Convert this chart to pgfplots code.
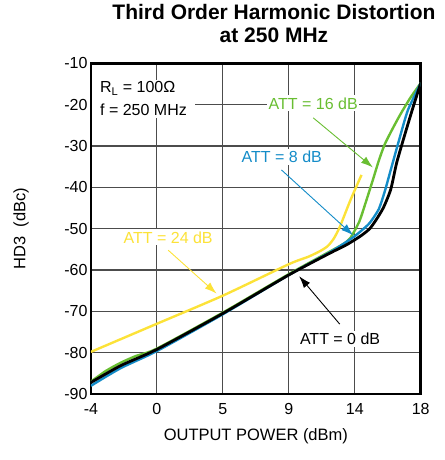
\documentclass[border=0pt]{standalone}
\usepackage{fontspec}
\setmainfont{Liberation Sans}
\usepackage{pgfplots}
\pgfplotsset{compat=1.18}
\usetikzlibrary{arrows.meta}
\definecolor{cblue}{RGB}{20,140,200}
\definecolor{cgreen}{RGB}{105,190,50}
\definecolor{cyellow}{RGB}{252,226,56}
\begin{document}
\begin{tikzpicture}
\begin{axis}[
  scale only axis, width=330pt, height=331pt,
  xmin=-4, xmax=18, ymin=-90, ymax=-10,
  xtick={-4,0.4,4.8,9.2,13.6,18}, xticklabels={-4,0,5,9,14,18},
  ytick={-90,-80,...,-10},
  major tick length=0pt,
  grid=major,
  major grid style={draw=black!70, line width=1.2pt},
  axis line style={line width=2.6pt},
  tick label style={font=\fontsize{16}{19}\selectfont},
  /pgf/number format/assume math mode=true,
  xticklabel style={yshift=-6pt},
  xlabel={OUTPUT POWER (dBm)}, ylabel={HD3\ \ (dBc)},
  label style={font=\fontsize{16.5}{20}\selectfont},
  xlabel style={at={(axis description cs:0.5,-0.129)}, anchor=center},
  ylabel style={at={(axis description cs:-0.212,0.5)}, anchor=center},
  title={Third Order Harmonic Distortion\\at 250 MHz},
  title style={at={(axis description cs:0.555,1)}, anchor=south, yshift=10.7pt, align=center, font=\bfseries\fontsize{21}{23}\selectfont},
]
\addplot[cyellow, line width=2.4pt, smooth, tension=0.4] coordinates {
(-4,-79.8) (0.4,-73.0) (4.8,-66.2) (9.2,-58.6) (10.5,-56.8) (11.3,-55.4) (11.8,-54.2) (12.2,-52.4) (12.6,-49.6) (13.3,-43.2) (14.05,-37.0)};
\addplot[cgreen, line width=2.4pt, smooth, tension=0.4] coordinates {
(-4,-87.0) (-3,-84.4) (-2,-82.4) (-1,-80.8) (0.4,-79.0) (4.8,-70.3) (9.2,-61.0) (11.9,-55.6) (12.8,-53.8) (13.3,-52.3) (13.9,-48.3) (14.3,-44.0) (14.8,-38.3) (15.2,-33.6) (15.6,-29.6) (16.2,-25.3) (16.7,-22.0) (17.3,-18.4) (18,-14.8)};
\addplot[cblue, line width=2.4pt, smooth, tension=0.4] coordinates {
(-4,-88.0) (-2,-83.7) (0.4,-79.6) (4.8,-70.7) (9.2,-61.2) (11.9,-55.8) (13.0,-53.3) (13.6,-51.8) (14.1,-50.3) (14.6,-48.6) (15.2,-45.3) (15.6,-41.0) (16.0,-35.8) (16.6,-28.0) (17.15,-21.3) (18,-14.8)};
\addplot[black, line width=2.8pt, smooth, tension=0.4] coordinates {
(-4,-87.2) (-2,-83.1) (0.4,-79.2) (4.8,-70.5) (9.2,-61.2) (11.9,-56.0) (13.0,-54.0) (13.6,-52.7) (14.1,-51.5) (14.6,-50.0) (15.0,-48.0) (15.5,-45.0) (16.0,-40.5) (16.4,-34.0) (17.0,-26.5) (17.5,-20.5) (18,-14.8)};
% annotations
\node[fill=white, anchor=west, align=left, inner xsep=8pt, inner ysep=2pt, font=\fontsize{16}{22.7}\selectfont] at (axis cs:-3.93,-18.6) {R\textsubscript{L} = 100Ω\\f = 250 MHz};
\draw[cgreen, line width=0.9pt, -{Latex[length=12pt,width=8pt]}] (axis cs:10.83,-23.2) -- (axis cs:14.81,-35.2);
\node[fill=white, inner xsep=1.5pt, inner ysep=2pt, text=cgreen, font=\fontsize{16}{19}\selectfont] at (axis cs:10.83,-19.7) {ATT = 16 dB};
\draw[cblue, line width=0.9pt, -{Latex[length=12pt,width=8pt]}] (axis cs:8.71,-35.8) -- (axis cs:13.49,-51.6);
\node[fill=white, inner xsep=1.5pt, inner ysep=2pt, text=cblue, font=\fontsize{16}{19}\selectfont] at (axis cs:8.73,-32.6) {ATT = 8 dB};
\draw[cyellow, line width=0.9pt, -{Latex[length=12pt,width=8pt]}] (axis cs:1.15,-55.2) -- (axis cs:4.38,-65.7);
\node[fill=white, inner xsep=1.5pt, inner ysep=2pt, text=cyellow, font=\fontsize{16}{19}\selectfont] at (axis cs:1.15,-52.1) {ATT = 24 dB};
\draw[black, line width=0.9pt, -{Latex[length=12pt,width=8pt]}] (axis cs:12.6,-73.1) -- (axis cs:9.89,-61.5);
\node[fill=white, inner xsep=1.5pt, inner ysep=2pt, text=black, font=\fontsize{16}{19}\selectfont] at (axis cs:12.62,-76.6) {ATT = 0 dB};
\end{axis}
\pgfresetboundingbox
\path (-91pt,-66pt) rectangle (354pt,394.3pt);
\end{tikzpicture}
\end{document}
